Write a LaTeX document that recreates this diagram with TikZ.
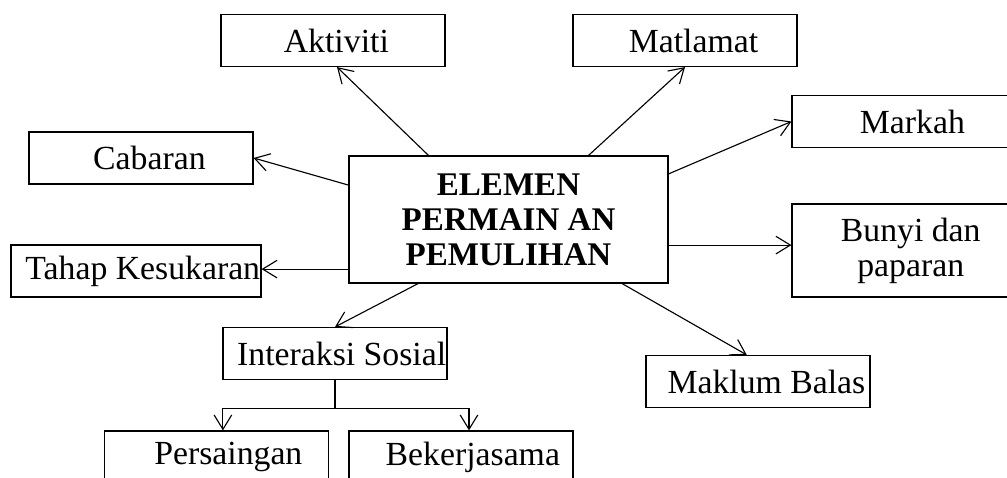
\documentclass[tikz,border=0pt]{standalone}
\usepackage{fontspec}
\setmainfont{Liberation Serif}
\usetikzlibrary{arrows.meta}

\begin{document}
\begin{tikzpicture}[x=0.025cm, y=-0.025cm, line width=0.8pt,
  >={Straight Barb[length=3.6mm, width=4.4mm]},
  every node/.style={font=\fontsize{24}{25}\selectfont}]
\tikzset{
  box/.style={
    draw, rectangle, inner xsep=0pt,
    minimum width=5.6cm, minimum height=1.3cm,
    align=center
  }
}
\useasboundingbox (0,0) rectangle (1007,478);

\node[box, minimum width=7.975cm, minimum height=3.175cm,
  font=\fontsize{23.5}{25}\selectfont\bfseries] (elm) at (508.5,219.5) {ELEMEN\\PERMAIN AN\\PEMULIHAN};
\node[box] (akt) at (333,40.5) {\hspace*{.2em}Aktiviti};
\node[box] (mat) at (685,40.5) {\hspace*{.5em}Matlamat};
\node[box] (cab) at (141,158) {\hspace*{.5em}Cabaran};
\node[box] (mar) at (904,121.5) {\hspace*{.5em}Markah};
\node[box, minimum height=2.325cm] (bun) at (904,250.5) {\hspace*{.4em}Bunyi dan\\\hspace*{.4em}paparan};
\node[box, minimum width=6.25cm] (tah) at (136,271) {\hspace*{.4em}Tahap Kesukaran};
\node[box] (int) at (335,353.5) {\hspace*{.4em}Interaksi Sosial};
\node[box] (mak) at (758,381.5) {\hspace*{.5em}Maklum Balas};
\node[box] (per) at (216.5,457) {\hspace*{.7em}Persaingan};
\node[box] (bek) at (461,457) {\hspace*{.7em}Bekerjasama};

\draw[->] ([xshift=-2cm]elm.north) -- ([xshift=1mm]akt.south);
\draw[->] ([xshift=2cm]elm.north) -- (mat.south);
\draw[->] ([yshift=8.6mm]elm.west) -- (cab.east);
\draw[->] ([yshift=11.4mm]elm.east) -- (mar.west);
\coordinate (e1) at ([yshift=-6.4mm]elm.east);
\draw[->] (e1) -- (e1 -| bun.west);
\coordinate (w1) at ([yshift=-12.4mm]elm.west);
\draw[->] (w1) -- (w1 -| tah.east);
\draw[->] ([xshift=-2.26cm]elm.south) -- (int.north);
\draw[->] ([xshift=2.84cm]elm.south) -- ([xshift=-2.8mm]mak.north);
\coordinate (j) at ([yshift=-7mm]int.south);
\draw (int.south) -- (j);
\draw[->] (j) -| ([xshift=1.6mm]per.north);
\draw[->] (j) -| ([xshift=2mm]bek.north);
\end{tikzpicture}
\end{document}
